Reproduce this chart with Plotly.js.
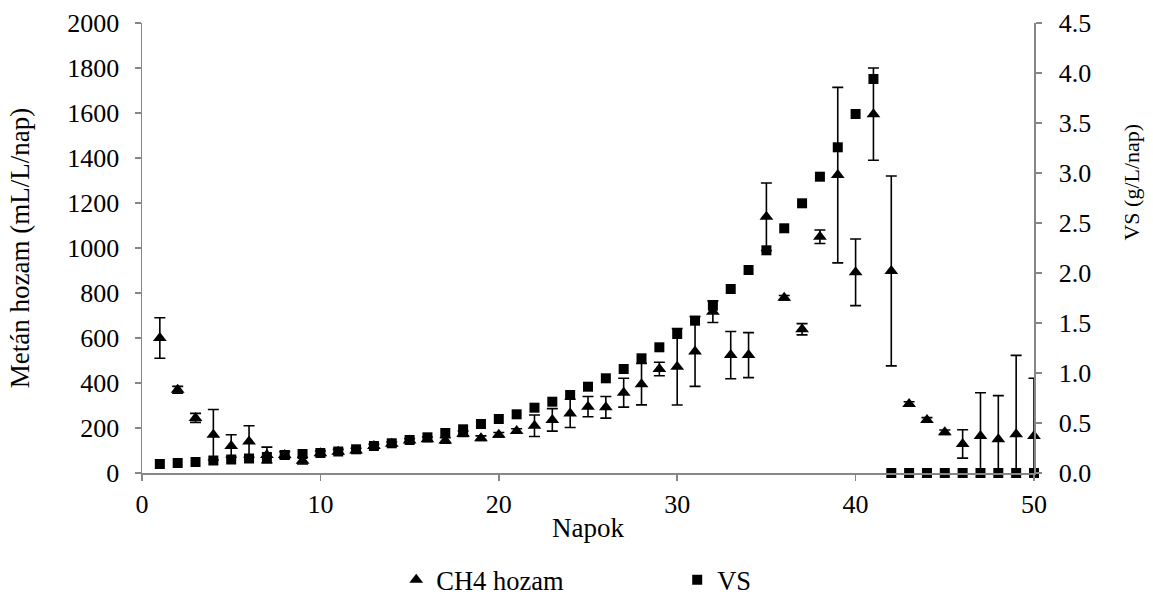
<!DOCTYPE html>
<html>
<head>
<meta charset="utf-8">
<script src="https://cdn.plot.ly/plotly-3.0.1.min.js"></script>
<style>html,body{margin:0;padding:0;background:#fff;}#chart{width:1153px;height:599px;}</style>
</head>
<body>
<div id="chart"></div>
<script>
const days = [1,2,3,4,5,6,7,8,9,10,11,12,13,14,15,16,17,18,19,20,21,22,23,24,25,26,27,28,29,30,31,32,33,34,35,36,37,38,39,40,41,42,43,44,45,46,47,48,49,50];
const ch4Yield = [600,370,245,170,120,140,80,80,55,88,95,100,120,130,145,150,145,175,155,170,187,210,236,265,295,292,357,395,462,472,540,717,524,524,1139,779,639,1050,1324,892,1595,898,307,236,181,129,164,150,172,164];
const ch4Err = [90,15,20,112,50,70,35,15,15,10,10,10,8,8,8,10,12,12,10,10,10,48,50,63,45,48,64,92,30,170,155,48,105,100,150,10,25,30,390,148,205,422,10,10,10,63,193,194,351,257];
const vsValues = [0.09,0.10,0.11,0.125,0.135,0.145,0.16,0.18,0.19,0.20,0.215,0.237,0.27,0.297,0.33,0.357,0.40,0.437,0.49,0.54,0.587,0.653,0.713,0.78,0.863,0.947,1.04,1.147,1.257,1.39,1.523,1.673,1.84,2.03,2.227,2.447,2.697,2.963,3.257,3.59,3.94,0,0,0,0,0,0,0,0,0];
const seriesNames = ['CH4 hozam','VS'];
const xTitle = 'Napok';
const yTitle = 'Metán hozam (mL/L/nap)';
const y2Title = 'VS (g/L/nap)';

const FONT = 'Liberation Serif';
const AX = '#868686';

const traces = [
  {
    x: days, y: vsValues, name: seriesNames[1], type: 'scatter', mode: 'markers', yaxis: 'y2', cliponaxis: false,
    marker: {symbol: 'square', size: 10, color: '#000'}
  },
  {
    x: days, y: ch4Yield, name: seriesNames[0], type: 'scatter', mode: 'markers', yaxis: 'y', cliponaxis: false,
    marker: {symbol: 'triangle-up', size: 12, color: '#000'},
    error_y: {type: 'data', array: ch4Err, visible: true, color: '#000', thickness: 1.6, width: 5.5}
  }
];

const layout = {
  width: 1153, height: 599,
  margin: {l: 142, r: 119, t: 23, b: 126, autoexpand: false},
  paper_bgcolor: '#fff', plot_bgcolor: '#fff',
  font: {family: FONT, size: 26, color: '#000'},
  showlegend: true,
  legend: {
    orientation: 'h', x: 0.285, xanchor: 'left', y: -0.238, yanchor: 'middle',
    traceorder: 'reversed', entrywidth: 236, font: {family: FONT, size: 26.5, color: '#000'},
    itemwidth: 30
  },
  xaxis: {
    range: [0, 50], dtick: 10, tick0: 0, showgrid: false, zeroline: false,
    showline: true, linecolor: AX, linewidth: 1.5, ticks: 'outside', ticklen: 6, tickcolor: AX, tickwidth: 1.5,
    tickfont: {family: FONT, size: 26}, ticklabelstandoff: 1,
    title: {text: xTitle, font: {family: FONT, size: 27}, standoff: 0}
  },
  yaxis: {
    range: [0, 2000], dtick: 200, showgrid: false, zeroline: false,
    showline: true, linecolor: AX, linewidth: 1.5, ticks: 'outside', ticklen: 6, tickcolor: AX, tickwidth: 1.5,
    tickfont: {family: FONT, size: 26}, ticklabelstandoff: 10,
    title: {text: yTitle, font: {family: FONT, size: 27}, standoff: 30}
  },
  yaxis2: {
    overlaying: 'y', side: 'right', range: [0, 4.5], dtick: 0.5, tickformat: '.1f', showgrid: false, zeroline: false,
    showline: true, linecolor: AX, linewidth: 1.5, ticks: 'outside', ticklen: 6, tickcolor: AX, tickwidth: 1.5,
    tickfont: {family: FONT, size: 26}, ticklabelstandoff: 12
  },
  annotations: [
    {text: y2Title, xref: 'paper', yref: 'paper', x: 1.109, y: 0.646, textangle: -90, showarrow: false,
     font: {family: FONT, size: 22, color: '#000'}, xanchor: 'center', yanchor: 'middle'}
  ]
};

Plotly.newPlot('chart', traces, layout, {displayModeBar: false, staticPlot: true});
</script>
</body>
</html>
